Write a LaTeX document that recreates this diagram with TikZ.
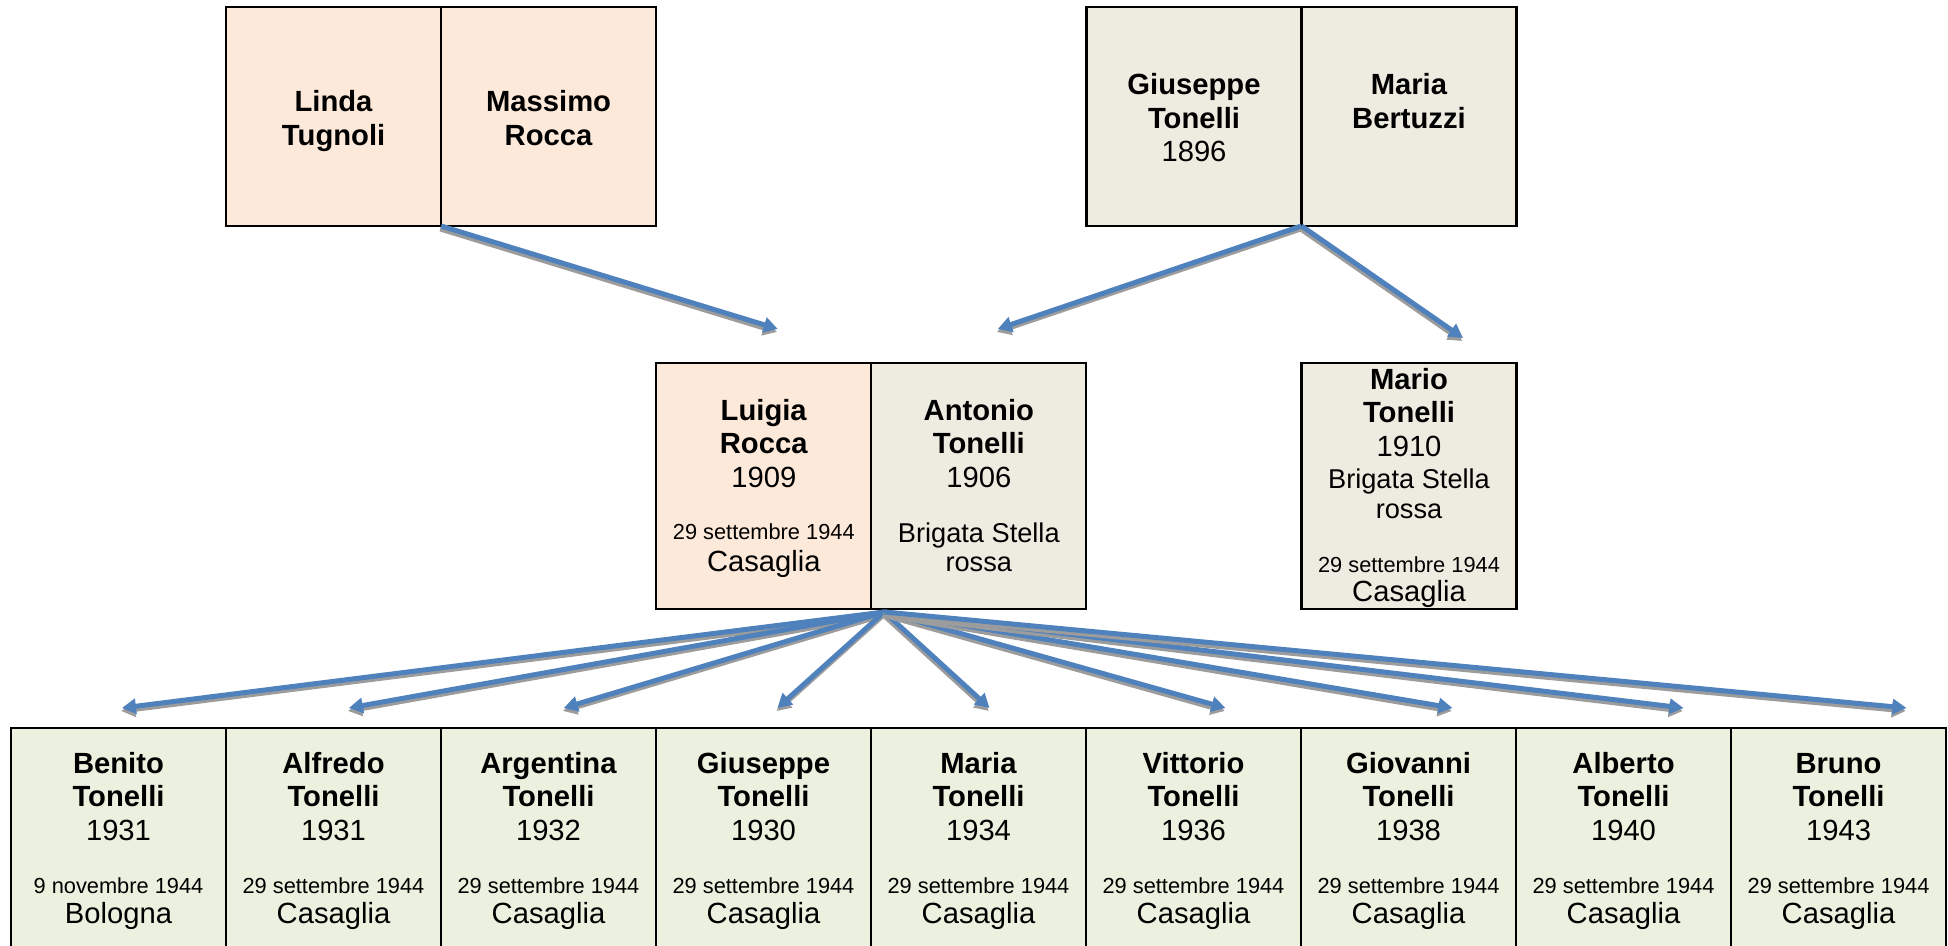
\documentclass[tikz,border=0pt]{standalone}
\usepackage{fontspec}
\setmainfont{Liberation Sans}
\usetikzlibrary{positioning,arrows.meta}

\definecolor{peach}{HTML}{FDE9D9}
\definecolor{stone}{HTML}{EEECE1}
\definecolor{sage}{HTML}{EBF1DE}
\definecolor{linkblue}{HTML}{4F81BD}
\definecolor{linkshade}{HTML}{9C9C9C}

\newlength{\lift}
\newcommand{\who}[2]{\rule{0pt}{\lift}\textbf{#1}\\\textbf{#2}}
\newcommand{\fin}{\rule[-4pt]{0pt}{4pt}}
\newcommand{\dd}[1]{{\fontsize{10.9}{12}\selectfont #1}}
\newcommand{\brig}{{\fontsize{13.6}{15}\selectfont Brigata Stella}}
\newcommand{\ros}{{\fontsize{13.6}{15}\selectfont rossa}}
% blue link with its grey shadow
\newcommand{\famlink}[2]{%
  \draw[link,draw=linkshade,transform canvas={xshift=-0.4pt,yshift=-1.5pt}] #1 -- #2;
  \draw[link] #1 -- #2;}

\begin{document}
\begin{tikzpicture}[x=0.5pt,y=-0.5pt,
    person/.style={draw,line width=1.1pt,outer sep=0pt,inner sep=0pt,
      minimum width=107.5pt,align=center,
      font=\fontsize{14.6}{16.75}\selectfont},
    elder/.style={person,minimum height=109.5pt},
    parent/.style={person,minimum height=123pt},
    kid/.style={person,fill=sage,minimum height=112pt},
    link/.style={line width=2.5pt,draw=linkblue,
      -{Triangle[length=7pt,width=7.5pt]}}]
\useasboundingbox (0,0) rectangle (1948,946);

% grandparents
\setlength{\lift}{15.8pt}
\node[elder,fill=peach] (linda) at (333.6,116.5) {\who{Linda}{Tugnoli}\fin};
\node[elder,fill=peach,right=0pt of linda] (massimo) {\who{Massimo}{Rocca}\fin};
\node[elder,fill=stone] (giuseppe) at (1194,116.5) {\who{Giuseppe}{Tonelli}\\1896\fin};
\node[elder,fill=stone,right=0pt of giuseppe] (maria) {\who{Maria}{Bertuzzi}\\\mbox{}\fin};

% parents
\setlength{\lift}{13.8pt}
\node[parent,fill=peach] (luigia) at (763.8,486) {\who{Luigia}{Rocca}\\1909\\[9.25pt]\dd{29 settembre 1944}\\[-0.75pt]Casaglia\fin};
\node[parent,fill=stone,right=0pt of luigia] (antonio) {\who{Antonio}{Tonelli}\\1906\\[10.75pt]\brig\\[-2.25pt]\ros\fin};
\setlength{\lift}{13pt}
\node[parent,fill=stone] (mario) at (1409,486) {\who{Mario}{Tonelli}\\1910\\[-0.75pt]\brig\\[-1.75pt]\ros\\[10.25pt]\dd{29 settembre 1944}\\[-2.25pt]Casaglia\fin};

% children
\setlength{\lift}{12.1pt}
\node[kid] (benito) at (118.5,840) {\who{Benito}{Tonelli}\\1931\\[9.75pt]\dd{9 novembre 1944}\\[-1.75pt]Bologna\fin};
\node[kid,right=0pt of benito] (alfredo) {\who{Alfredo}{Tonelli}\\1931\\[9.75pt]\dd{29 settembre 1944}\\[-1.75pt]Casaglia\fin};
\node[kid,right=0pt of alfredo] (argentina) {\who{Argentina}{Tonelli}\\1932\\[9.75pt]\dd{29 settembre 1944}\\[-1.75pt]Casaglia\fin};
\node[kid,right=0pt of argentina] (giuseppekid) {\who{Giuseppe}{Tonelli}\\1930\\[9.75pt]\dd{29 settembre 1944}\\[-1.75pt]Casaglia\fin};
\node[kid,right=0pt of giuseppekid] (mariakid) {\who{Maria}{Tonelli}\\1934\\[9.75pt]\dd{29 settembre 1944}\\[-1.75pt]Casaglia\fin};
\node[kid,right=0pt of mariakid] (vittorio) {\who{Vittorio}{Tonelli}\\1936\\[9.75pt]\dd{29 settembre 1944}\\[-1.75pt]Casaglia\fin};
\node[kid,right=0pt of vittorio] (giovanni) {\who{Giovanni}{Tonelli}\\1938\\[9.75pt]\dd{29 settembre 1944}\\[-1.75pt]Casaglia\fin};
\node[kid,right=0pt of giovanni] (alberto) {\who{Alberto}{Tonelli}\\1940\\[9.75pt]\dd{29 settembre 1944}\\[-1.75pt]Casaglia\fin};
\node[kid,right=0pt of alberto] (bruno) {\who{Bruno}{Tonelli}\\1943\\[9.75pt]\dd{29 settembre 1944}\\[-1.75pt]Casaglia\fin};

% links
\famlink{(massimo.south west)}{([xshift=7pt,yshift=17pt]luigia.north)}
\famlink{(maria.south west)}{([xshift=9.5pt,yshift=17pt]antonio.north)}
\famlink{(maria.south west)}{([xshift=27pt,yshift=12.5pt]mario.north)}

\coordinate (kids) at ([xshift=6.5pt,yshift=-1.5pt]antonio.south west);
\foreach \k/\dx in {benito/1.75,alfredo/7.7,argentina/7.65,giuseppekid/7,mariakid/5.5,
                    vittorio/16,giovanni/22,alberto/30,bruno/34}
  {\famlink{(kids)}{([xshift=\dx pt,yshift=10pt]\k.north)}}
\end{tikzpicture}
\end{document}
